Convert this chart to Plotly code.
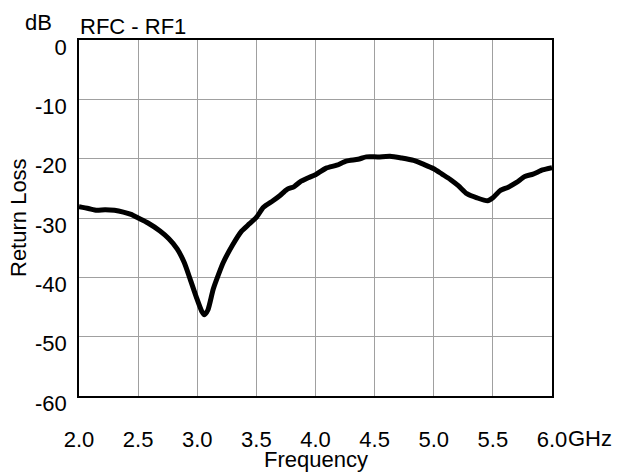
import plotly.graph_objects as go

freq_ghz = [2.00, 2.08, 2.15, 2.22, 2.30, 2.375, 2.44, 2.50, 2.58, 2.685, 2.76, 2.83,
            2.89, 2.94, 2.99, 3.04, 3.06, 3.09, 3.135, 3.18, 3.22, 3.30, 3.375, 3.44,
            3.50, 3.56, 3.64, 3.70, 3.757, 3.82, 3.87, 3.93, 4.00, 4.09, 4.18, 4.26,
            4.36, 4.43, 4.53, 4.63, 4.73, 4.83, 4.92, 5.00, 5.07, 5.14, 5.21, 5.28,
            5.365, 5.455, 5.50, 5.56, 5.63, 5.70, 5.77, 5.84, 5.92, 6.00]
return_loss_db = [-28.1, -28.4, -28.7, -28.6, -28.7, -29.0, -29.4, -30.0, -30.8, -32.2, -33.5, -35.2,
                  -37.5, -40.3, -43.2, -45.8, -46.3, -45.5, -42.0, -39.5, -37.5, -34.5, -32.2, -31.0,
                  -29.9, -28.2, -27.1, -26.2, -25.2, -24.7, -23.9, -23.3, -22.7, -21.6, -21.1, -20.4,
                  -20.1, -19.7, -19.7, -19.6, -19.9, -20.3, -21.0, -21.7, -22.6, -23.5, -24.6, -25.9,
                  -26.6, -27.1, -26.6, -25.4, -24.8, -24.0, -23.0, -22.6, -21.9, -21.5]

x_ticks = [2.0, 2.5, 3.0, 3.5, 4.0, 4.5, 5.0, 5.5, 6.0]
x_tick_labels = ["2.0", "2.5", "3.0", "3.5", "4.0", "4.5", "5.0", "5.5", "6.0"]
y_ticks = [0, -10, -20, -30, -40, -50, -60]
y_tick_labels = ["0", "-10", "-20", "-30", "-40", "-50", "-60"]

FONT = "Liberation Sans, Arial, sans-serif"
FS = 22

fig = go.Figure()
fig.add_trace(go.Scatter(x=freq_ghz, y=return_loss_db, mode="lines",
                         line=dict(color="black", width=5, shape="spline", smoothing=0.6),
                         showlegend=False, hoverinfo="skip"))

fig.update_layout(
    width=618, height=473,
    margin=dict(l=79, r=66, t=40, b=77),
    paper_bgcolor="white", plot_bgcolor="white",
    font=dict(family=FONT, size=FS, color="black"),
    xaxis=dict(range=[2.0, 6.0], tickvals=x_ticks, ticktext=x_tick_labels,
               showgrid=True, gridcolor="#a0a0a0", gridwidth=1,
               showline=True, linecolor="black", linewidth=1.5, mirror=True,
               ticks="", ticklabelstandoff=23, zeroline=False,
               tickfont=dict(family=FONT, size=FS)),
    yaxis=dict(range=[-60, 0], tickvals=y_ticks, ticktext=y_tick_labels,
               showgrid=True, gridcolor="#a0a0a0", gridwidth=1,
               showline=True, linecolor="black", linewidth=1.5, mirror=True,
               ticks="", ticklabelstandoff=6, ticklabelshift=7, zeroline=False,
               tickfont=dict(family=FONT, size=FS)),
    annotations=[
        dict(text="RFC - RF1", xref="paper", yref="paper", x=0.0, y=1.0,
             xanchor="left", yanchor="bottom", showarrow=False, xshift=-1, yshift=-1,
             font=dict(family=FONT, size=FS)),
        dict(text="dB", xref="paper", yref="paper", x=0.0, y=1.0,
             xanchor="right", yanchor="bottom", showarrow=False, xshift=-25, yshift=3,
             font=dict(family=FONT, size=FS)),
        dict(text="GHz", xref="x", yref="paper", x=6.0, y=0.0,
             xanchor="left", yanchor="top", showarrow=False, xshift=14, yshift=-28,
             font=dict(family=FONT, size=FS)),
        dict(text="Frequency", xref="paper", yref="paper", x=0.5, y=0.0,
             xanchor="center", yanchor="top", showarrow=False, yshift=-49,
             font=dict(family=FONT, size=FS)),
        dict(text="Return Loss", xref="paper", yref="paper", x=0.0, y=0.5,
             xanchor="center", yanchor="middle", showarrow=False, xshift=-61, textangle=-90,
             font=dict(family=FONT, size=FS)),
    ],
)

fig.write_html("out.html")
